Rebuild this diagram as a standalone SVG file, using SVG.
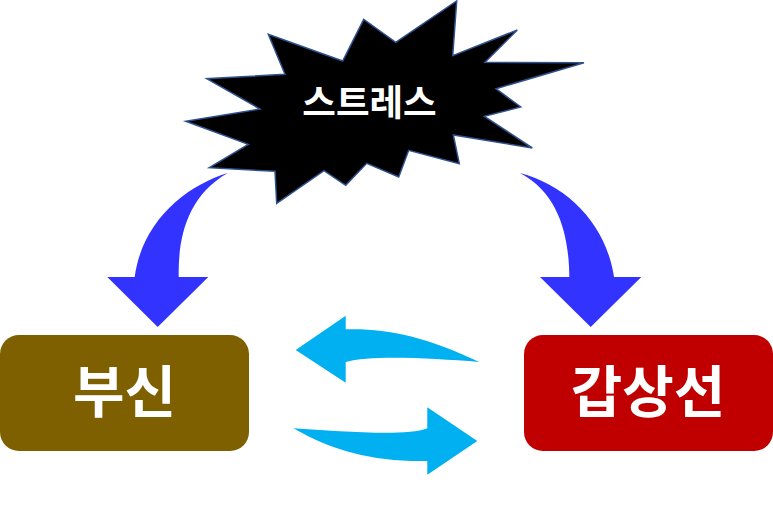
<svg xmlns="http://www.w3.org/2000/svg" width="773" height="509" viewBox="0 0 773 509">
<style>
.t{font-family:"Noto Sans CJK KR","Noto Sans",sans-serif;font-weight:700;fill:#fff;text-anchor:middle}
.b{fill:#3333ff}
.c{fill:#00b0f0}
</style>
<rect width="773" height="509" fill="#fff"/>
<g id="connectors">
<path class="b" d="M227.7 173C185 186 142 222 134.7 277H107.3L157.7 327L208.3 277H178.7C178 240 186 197 227.7 173Z"/>
<path class="b" d="M520 173C568 186 606 224 614 277H641.3L590.7 327L540 277H569.3C569 238 560 194 520 173Z"/>
<path class="c" d="M479.3 362C425 336 385 328 345.7 329.3V315.7L295.7 350L345.7 382.7V362C370 355 430 358 479.3 362Z"/>
<path class="c" d="M293.3 428.3C340 431 405 437 427.3 428.3V407.3L477.3 441L427.3 474.7V461C375 462 335 452 293.3 428.3Z"/>
</g>
<g id="stress">
<polygon fill="#000" stroke="#2f528f" stroke-width="1.5" points="456.7,1 452.7,55.7 517.3,30 485,62.3 584,62.7 496,88.7 520.7,107 484.3,116.3 532.3,148 453.3,135 459.3,163.7 408.7,150.3 398.7,177 366.7,163.3 345.7,185.3 324,170.7 276.7,203.3 275,171.3 209.3,167.7 248.3,144.3 185.7,121.3 260,109 206.7,78.7 285,74.3 268.3,34.3 342.7,61 363.7,19.3 395.7,42.3"/>
<text class="t" x="369.5" y="116" font-size="36.5">스트레스</text>
</g>
<g id="busin">
<rect x="0" y="335" width="249" height="116" rx="19" fill="#7f6000"/>
<text class="t" x="124.5" y="412" font-size="56">부신</text>
</g>
<g id="gapsangseon">
<rect x="524" y="335" width="249" height="116" rx="19" fill="#c00000"/>
<text class="t" x="648" y="412" font-size="56">갑상선</text>
</g>
</svg>
